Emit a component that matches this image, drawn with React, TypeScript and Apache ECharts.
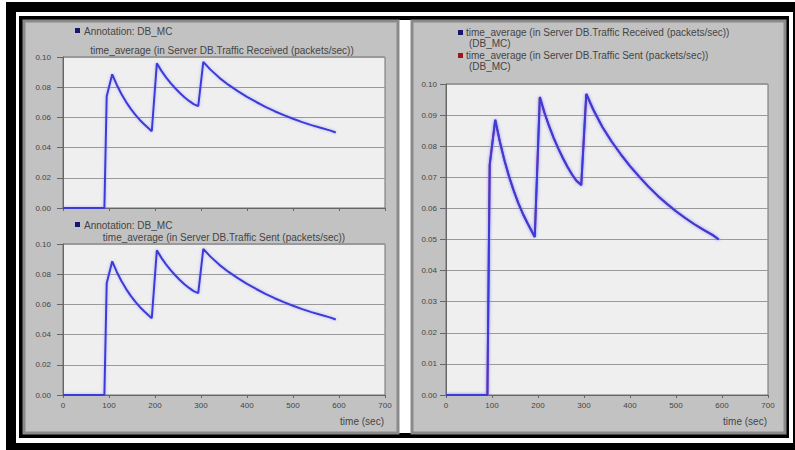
import React, { useEffect, useRef } from "react";
import * as echarts from "echarts";

// ---- data ----
const timeSec = [
  0, 90, 95, 107, 117, 127, 137, 147, 157, 167, 177, 187, 193,
  204, 214, 224, 234, 244, 254, 264, 274, 284, 294,
  305, 320, 340, 360, 380, 400, 420, 440, 460, 480, 500, 520, 540, 560, 580, 593,
];
const receivedRate = [
  0, 0, 0.074, 0.0885, 0.0815, 0.0755, 0.0703, 0.0658, 0.0618, 0.0583, 0.0553, 0.0525, 0.0508,
  0.0958, 0.0908, 0.0865, 0.0827, 0.0793, 0.0762, 0.0734, 0.0709, 0.0688, 0.0675,
  0.0968, 0.0918, 0.0862, 0.0815, 0.0774, 0.0736, 0.0702, 0.067, 0.0641, 0.0615, 0.0591, 0.0569, 0.0549, 0.0531, 0.0514, 0.05,
];
const sentRate = [
  0, 0, 0.074, 0.0885, 0.0815, 0.0755, 0.0703, 0.0658, 0.0618, 0.0583, 0.0553, 0.0525, 0.0508,
  0.0958, 0.0908, 0.0865, 0.0827, 0.0793, 0.0762, 0.0734, 0.0709, 0.0688, 0.0675,
  0.0968, 0.0918, 0.0862, 0.0815, 0.0774, 0.0736, 0.0702, 0.067, 0.0641, 0.0615, 0.0591, 0.0569, 0.0549, 0.0531, 0.0514, 0.05,
];
const xRange = [0, 700];
const xStep = 100;
const leftYRange = [0, 0.1];
const leftYStep = 0.02;
const rightYRange = [0, 0.1];
const rightYStep = 0.01;

const annotationLabel = "Annotation: DB_MC";
const titleReceived = "time_average (in Server DB.Traffic Received (packets/sec))";
const titleSent = "time_average (in Server DB.Traffic Sent (packets/sec))";
const runLabel = "(DB_MC)";
const xAxisName = "time (sec)";

const FONT = '"Liberation Sans", Arial, sans-serif';
const TEXT = "#444444";
const BLUE = "#3d3ad6";
const NAVY = "#16166e";
const RED = "#9e1420";

const pairs = (vals: number[]) => timeSec.map((t, i) => [t, vals[i]]);

function yAxis(gridIndex: number, range: number[], step: number, margin: number) {
  return {
    type: "value",
    gridIndex,
    min: range[0],
    max: range[1],
    interval: step,
    axisLine: { show: true, lineStyle: { color: "#666", width: 1 } },
    axisTick: { show: true, length: 6, lineStyle: { color: "#666" } },
    axisLabel: {
      fontSize: 8,
      color: TEXT,
      fontFamily: FONT,
      margin,
      formatter: (v: number) => v.toFixed(2),
    },
    splitLine: { show: true, lineStyle: { color: "#9a9a9a", width: 1 } },
  };
}

function xAxis(gridIndex: number, showLabels: boolean) {
  return {
    type: "value",
    gridIndex,
    min: xRange[0],
    max: xRange[1],
    interval: xStep,
    axisLine: { show: true, onZero: false, lineStyle: { color: "#666", width: 1 } },
    axisTick: { show: true, length: 3, lineStyle: { color: "#666" } },
    axisLabel: {
      show: showLabels,
      fontSize: 8,
      color: TEXT,
      fontFamily: FONT,
      margin: 6,
    },
    splitLine: { show: false },
  };
}

function line(name: string, xi: number, vals: number[], color: string, z: number) {
  return {
    type: "line",
    name,
    xAxisIndex: xi,
    yAxisIndex: xi,
    data: pairs(vals),
    showSymbol: false,
    symbol: "none",
    z,
    lineStyle: {
      color,
      width: 2,
      shadowColor: "rgba(120,120,255,0.55)",
      shadowBlur: 3,
    },
    itemStyle: { color },
  };
}

const txt = (x: number, y: number, text: string, align: string = "left") => ({
  type: "text",
  x,
  y,
  z: 10,
  style: {
    text,
    fill: TEXT,
    font: `10px ${FONT}`,
    textAlign: align,
    textVerticalAlign: "middle",
  },
});

const sq = (x: number, y: number, color: string) => ({
  type: "rect",
  z: 10,
  shape: { x, y, width: 5, height: 5 },
  style: { fill: color },
});

const bg = (x: number, y: number, w: number, h: number, style: any) => ({
  type: "rect",
  z: -10,
  shape: { x, y, width: w, height: h },
  style,
});

export default function App() {
  const ref = useRef<HTMLDivElement>(null);
  useEffect(() => {
    if (!ref.current) return;
    const chart = echarts.init(ref.current, null, { renderer: "svg" });
    chart.setOption({
      animation: false,
      backgroundColor: "#ffffff",
      grid: [
        { left: 63, top: 57, width: 322, height: 151, show: true, backgroundColor: "#efefef", borderColor: "#707070", borderWidth: 1 },
        { left: 63, top: 244, width: 322, height: 151, show: true, backgroundColor: "#efefef", borderColor: "#707070", borderWidth: 1 },
        { left: 446, top: 84, width: 322, height: 311, show: true, backgroundColor: "#efefef", borderColor: "#707070", borderWidth: 1 },
      ],
      xAxis: [xAxis(0, false), xAxis(1, true), xAxis(2, true)],
      yAxis: [
        yAxis(0, leftYRange, leftYStep, 12),
        yAxis(1, leftYRange, leftYStep, 12),
        yAxis(2, rightYRange, rightYStep, 9),
      ],
      series: [
        line(titleReceived, 0, receivedRate, BLUE, 3),
        line(titleSent, 1, sentRate, BLUE, 3),
        line(titleSent + " " + runLabel, 2, sentRate, RED, 2),
        line(titleReceived + " " + runLabel, 2, receivedRate, BLUE, 3),
      ],
      graphic: [
        // frame
        bg(0, 0, 795, 450, { fill: "#ffffff" }),
        bg(6, 2, 789, 448, { fill: "#000000" }),
        bg(16, 12, 777, 431, { fill: "#ffffff" }),
        bg(19, 16, 770, 422, { fill: "#000000" }),
        bg(398, 20, 14, 413, { fill: "#ffffff" }),
        // panels
        bg(24, 21, 374, 412, { fill: "#c2c2c2", stroke: "#8a8a8a", lineWidth: 3 }),
        bg(412, 21, 373, 412, { fill: "#c2c2c2", stroke: "#8a8a8a", lineWidth: 3 }),
        // top-left legend + title
        sq(75, 28, NAVY),
        txt(84, 31, annotationLabel),
        txt(222, 50, titleReceived, "center"),
        // bottom-left legend + title
        sq(75, 222, NAVY),
        txt(84, 225, annotationLabel),
        txt(224, 237, titleSent, "center"),
        // right legend
        sq(458, 30, NAVY),
        txt(466, 32, titleReceived),
        txt(469, 43, runLabel),
        sq(458, 53, RED),
        txt(466, 55, titleSent),
        txt(469, 66, runLabel),
        // axis names
        txt(384, 421, xAxisName, "right"),
        txt(767, 421, xAxisName, "right"),
      ],
    });
    return () => chart.dispose();
  }, []);
  return (
    <div
      ref={ref}
      style={{ position: "fixed", left: 0, top: 0, width: 795, height: 450 }}
    />
  );
}
